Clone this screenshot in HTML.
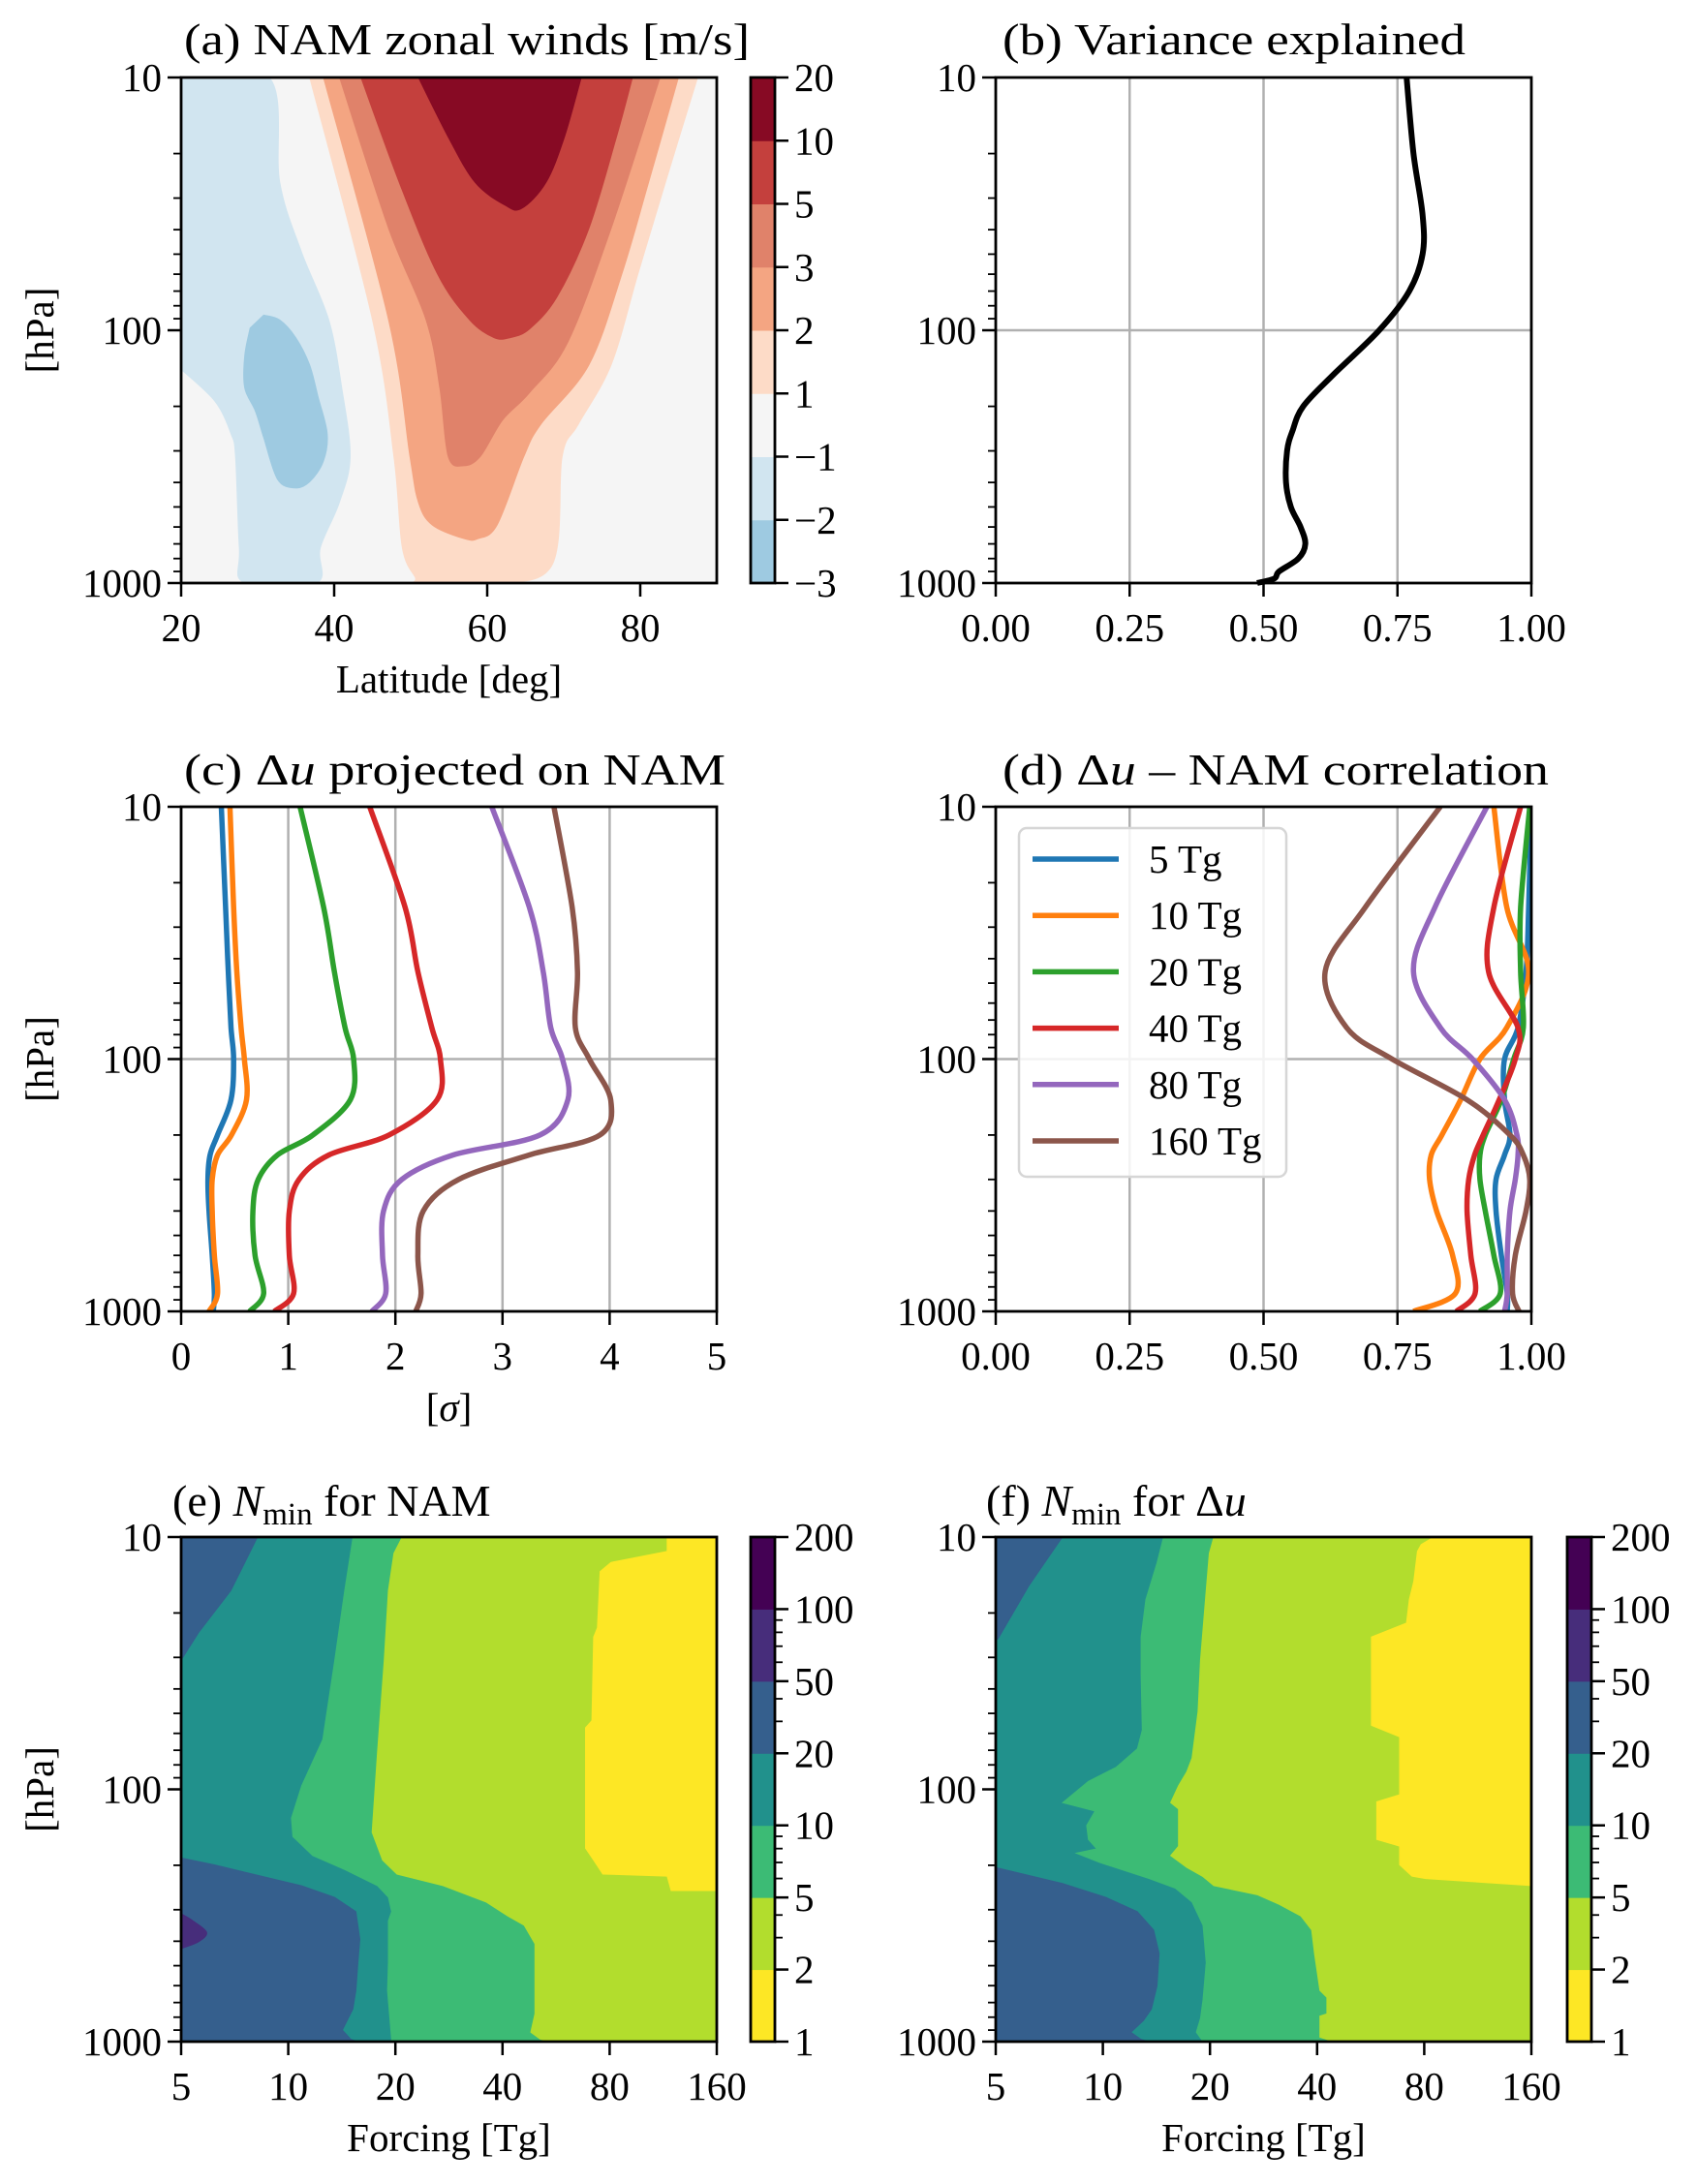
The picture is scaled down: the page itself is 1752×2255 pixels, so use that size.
<!DOCTYPE html>
<html><head><meta charset="utf-8"><style>
html,body{margin:0;padding:0;background:#fff}
svg{display:block}
text{font-family:"Liberation Serif","DejaVu Serif",serif;fill:#000}
</style></head><body>
<svg id="fig" xmlns="http://www.w3.org/2000/svg" width="1752" height="2255" viewBox="0 0 1752 2255"></svg>
<script>
// ---------- data ----------
const aLevels = ["\u22123","\u22122","\u22121","1","2","3","5","10","20"];
const aColors = ["#9ecae1","#d1e5f0","#f5f5f5","#fddbc7","#f4a582","#e0826a","#c4403d","#870a24"];
const aNeg1 = [[20,10],[31.5,10],[32.9,26],[35.7,48.6],[39.3,91],[41,169],[42.1,316],[40.7,479],[38.2,725],[37.7,1000],[28.3,1000],[27.6,725],[27.1,316],[26.5,256],[24.4,191],[20,143]];
const aNeg2 = [[30.8,87],[32.9,91],[35,107],[36.8,137],[37.9,183],[39.1,256],[38.6,330],[36.8,398],[34.9,421],[32.6,389],[30.8,267],[29.7,209],[28.3,169],[28.3,126],[29,98]];
const aPos1 = [[36.8,10],[45,91],[47.8,316],[48.9,725],[50.6,950],[51,1000],[59.9,1000],[68.4,857],[69.8,316],[71.9,236],[76.2,137],[79.7,60],[83.3,26],[87.5,10]];
const aPos2 = [[38.6,10],[47.1,91],[49.9,316],[51,479],[52.8,589],[57,668],[58.8,668],[61.3,589],[64.8,316],[67,236],[73.3,137],[77.6,60],[81.1,26],[85,10]];
const aPos3 = [[40.7,10],[47.1,39.5],[52,91],[53.8,169],[54.9,316],[56.9,344],[59.1,316],[62,227],[65.5,177],[70.5,112],[76.2,39.5],[82.6,10]];
const aPos5 = [[43.5,10],[48.5,26],[53.5,60],[57.7,91],[60.9,107],[63,107],[65.5,99],[69.1,74],[73.3,39.5],[76.9,17.2],[79,10]];
const aPos10 = [[51,10],[54.9,17.2],[58.4,26],[62.3,32],[64.5,33],[67.7,26],[70.1,17.2],[72.3,10]];

const bP = [10,20,35,50,70,100,150,200,250,300,400,500,600,700,800,900,960,1000];
const bV = [0.767,0.78,0.797,0.797,0.772,0.716,0.63,0.574,0.554,0.544,0.542,0.551,0.569,0.578,0.565,0.529,0.52,0.488];

const seriesNames = ["5 Tg","10 Tg","20 Tg","40 Tg","80 Tg","160 Tg"];
const seriesColors = ["#1f77b4","#ff7f0e","#2ca02c","#d62728","#9467bd","#8c564b"];
const profP = [10,25,45,75,100,145,200,240,300,400,600,850,1000];
const c5 = [0.375,0.415,0.44,0.466,0.49,0.466,0.34,0.27,0.25,0.26,0.29,0.31,0.30];
const c10 = [0.456,0.49,0.52,0.56,0.59,0.61,0.47,0.34,0.29,0.29,0.31,0.34,0.26];
const c20 = [1.11,1.33,1.43,1.53,1.61,1.58,1.23,0.9,0.72,0.67,0.69,0.77,0.64];
const c40 = [1.76,2.09,2.21,2.34,2.42,2.39,1.94,1.38,1.1,1.01,1.01,1.05,0.87];
const c80 = [2.9,3.25,3.38,3.45,3.56,3.61,3.35,2.54,2.06,1.89,1.88,1.91,1.78];
const c160 = [3.48,3.65,3.70,3.68,3.81,4.01,3.91,3.25,2.59,2.26,2.21,2.24,2.19];
const d5 = [1.0,0.995,0.99,0.975,0.95,0.95,0.96,0.95,0.934,0.934,0.944,0.955,0.955];
const d10 = [0.93,0.954,0.995,0.954,0.904,0.868,0.833,0.813,0.81,0.823,0.853,0.858,0.78];
const d20 = [0.997,0.98,0.98,0.985,0.967,0.944,0.914,0.904,0.904,0.914,0.93,0.942,0.904];
const d40 = [0.98,0.93,0.92,0.975,0.97,0.94,0.91,0.894,0.883,0.88,0.887,0.895,0.86];
const d80 = [0.917,0.82,0.78,0.83,0.89,0.95,0.973,0.975,0.97,0.96,0.955,0.955,0.95];
const d160 = [0.83,0.69,0.615,0.655,0.74,0.88,0.96,0.985,0.997,0.99,0.97,0.965,0.977];

const nLevels = [1,2,5,10,20,50,100,200];
const nColors = ["#fde725","#b2dd2d","#3cbb75","#21918c","#355f8d","#472d7b","#440154"];
const eTopBlue = [[5,10],[8.2,10],[6.9,16.3],[5.6,23.9],[5,30.8]];
const eGreen = [[15.2,10],[14.4,16.3],[13.5,30.8],[12.5,63.4],[10.9,96.8],[10.2,130],[10.3,154],[11.7,183],[14.4,208],[17.8,241],[19.1,268],[19.5,305],[19.1,332],[19.1,486],[19,627],[19.5,979],[19.5,1000],[160,1000],[160,10]];
const eLight = [[20.9,10],[19.8,11.6],[19.1,16.3],[18.6,30.8],[17.8,71.9],[17.2,148],[18.4,191],[20.2,217],[27.2,241],[36,280],[41.4,318],[46,346],[49.3,410],[49.3,775],[48,918],[51.1,979],[54.8,1000],[160,1000],[160,10]];
const eYellow = [[116,10],[116,11.4],[80.7,12.6],[75.2,13.7],[73.9,22.9],[72.1,24.9],[71.3,53.4],[68.4,57],[68.4,171],[72.1,191],[76.5,217],[116,221],[119,252],[160,252],[160,10]];
const eBotBlue = [[5,187],[6.2,199],[8.2,219],[10.9,241],[13.5,268],[15.5,305],[15.9,393],[15.7,486],[15.5,627],[15.2,743],[14.2,899],[15,979],[15.7,1000],[5,1000]];
const ePurple = [[5,311],[5.4,332],[5.9,369],[5.6,402],[5,428]];
const fTopBlue = [[5,10],[7.7,10],[6.2,15.6],[5.07,25.4],[5,25.4]];
const fGreen = [[14.8,10],[14.2,12.6],[13.2,17.7],[12.8,24.9],[12.8,35],[12.9,58.2],[12.5,69],[10.9,81.7],[9.1,92.9],[7.7,113],[9.5,122],[9.0,139],[9.1,158],[9.6,172],[8.4,179],[9.8,195],[13.5,226],[16,247],[17.8,280],[19.1,346],[19.5,486],[19.1,682],[18.8,809],[18.3,918],[19.1,1000],[160,1000],[160,10]];
const fLight = [[20.5,10],[19.9,11.6],[19.5,16.3],[18.8,30.8],[18.5,49.1],[17.8,75.1],[17.2,85.3],[16.3,96.8],[15.5,113],[16.3,119.7],[16.3,168],[15.5,183],[17.2,204],[19.1,222],[20.5,241],[27.2,262],[31.3,286],[36,318],[38.6,361],[39.3,447],[40.7,627],[42.6,668],[42.6,775],[40.7,792],[40.7,960],[44.4,1000],[160,1000],[160,10]];
const fYellow = [[160,10],[85,10],[78.4,10.7],[76.5,11.4],[74.7,15],[72.6,17.7],[71.3,21.9],[56.8,24.9],[56.8,55.8],[68.2,62],[68.2,105],[58.8,112],[58.8,158],[68.2,168],[68.2,199],[73.9,221],[80.7,226],[160,241]];
const fBotBlue = [[5,204],[7.7,236],[10.2,268],[12.5,305],[13.9,361],[14.4,447],[14.2,601],[13.7,743],[13,826],[12,918],[12.8,979],[13.5,1000],[5,1000]];

const latTicks = [20,40,60,80];
const fracTicks = [0,0.25,0.5,0.75,1];
const fracLabels = ["0.00","0.25","0.50","0.75","1.00"];
const sigTicks = [0,1,2,3,4,5];
const forceTicks = [5,10,20,40,80,160];
const presTicks = [10,100,1000];

// ---------- helpers ----------
const NS = "http://www.w3.org/2000/svg";
const fig = document.getElementById("fig");
function mk(tag, attrs, parent){const e=document.createElementNS(NS,tag);for(const k in attrs)e.setAttribute(k,attrs[k]);(parent||fig).appendChild(e);return e;}
function yP(ax,p){return ax.y0+(Math.log10(p)-1)/2*(ax.y1-ax.y0);}
function xLin(ax,v,lo,hi){return ax.x0+(v-lo)/(hi-lo)*(ax.x1-ax.x0);}
function xLog2(ax,f){return ax.x0+Math.log2(f/5)/5*(ax.x1-ax.x0);}
function smooth(pts){let d="M"+pts[0][0].toFixed(1)+","+pts[0][1].toFixed(1);for(let i=0;i<pts.length-1;i++){const p0=pts[i-1]||pts[i],p1=pts[i],p2=pts[i+1],p3=pts[i+2]||p2;const c1=[p1[0]+(p2[0]-p0[0])/6,p1[1]+(p2[1]-p0[1])/6],c2=[p2[0]-(p3[0]-p1[0])/6,p2[1]-(p3[1]-p1[1])/6];d+="C"+c1[0].toFixed(1)+","+c1[1].toFixed(1)+" "+c2[0].toFixed(1)+","+c2[1].toFixed(1)+" "+p2[0].toFixed(1)+","+p2[1].toFixed(1);}return d;}
let clipId=0;
function clip(ax){const id="c"+(clipId++);const cp=mk("clipPath",{id:id});mk("rect",{x:ax.x0,y:ax.y0,width:ax.x1-ax.x0,height:ax.y1-ax.y0},cp);return "url(#"+id+")";}

const A={x0:187,x1:740,y0:80,y1:602}, B={x0:1028,x1:1581,y0:80,y1:602};
const C={x0:187,x1:740,y0:833,y1:1354}, D={x0:1028,x1:1581,y0:833,y1:1354};
const E={x0:187,x1:740,y0:1587,y1:2108}, F={x0:1028,x1:1581,y0:1587,y1:2108};

function title(ax,str,y,len,name){const t=mk("text",{x:ax.tx,y:y,"font-size":46,textLength:len,lengthAdjust:"spacingAndGlyphs"});t.innerHTML=str;

}

function yAxis(ax,label,name){
  const g=mk("g",{});
  
  
  presTicks.forEach(p=>{const y=yP(ax,p);mk("line",{x1:ax.x0-14,x2:ax.x0,y1:y,y2:y,stroke:"#000","stroke-width":2.5},g);
    const t=mk("text",{x:ax.x0-20,y:y+14,"font-size":41,"text-anchor":"end"},g);t.textContent=String(p);});
  [10,100].forEach(b=>{for(let k=2;k<10;k++){const y=yP(ax,b*k);mk("line",{x1:ax.x0-8,x2:ax.x0,y1:y,y2:y,stroke:"#000","stroke-width":1.8},g);}});
  if(label){const cy=(ax.y0+ax.y1)/2;const t=mk("text",{x:0,y:0,"font-size":41,"text-anchor":"middle",transform:"translate(55,"+cy+") rotate(-90)"},g);t.textContent=label;
    
    }
}
function xAxis(ax,vals,labels,fx,label,name){
  const g=mk("g",{});
  
  
  vals.forEach((v,i)=>{const x=fx(v);mk("line",{x1:x,x2:x,y1:ax.y1,y2:ax.y1+14,stroke:"#000","stroke-width":2.5},g);
    const t=mk("text",{x:x,y:ax.y1+60,"font-size":41,"text-anchor":"middle"},g);t.textContent=labels[i];});
  if(label){const t=mk("text",{x:(ax.x0+ax.x1)/2,y:ax.y1+113,"font-size":41,"text-anchor":"middle"},g);t.innerHTML=label;
    
    }
}
function frame(ax,name){const r=mk("rect",{x:ax.x0,y:ax.y0,width:ax.x1-ax.x0,height:ax.y1-ax.y0,fill:"none",stroke:"#000","stroke-width":2.8});

}
function grid(ax,xs,fx){xs.forEach(v=>{const x=fx(v);const l=mk("line",{x1:x,x2:x,y1:ax.y0,y2:ax.y1,stroke:"#b0b0b0","stroke-width":2.5});

});
const y=yP(ax,100);const l=mk("line",{x1:ax.x0,x2:ax.x1,y1:y,y2:y,stroke:"#b0b0b0","stroke-width":2.5});

}
function poly(ax,pts,fx,color,name,cp,sm){
let d;
if(sm){d=smooth(pts.map(q=>[fx(q[0]),yP(ax,q[1])]))+"Z";}
else{d=pts.map((q,i)=>(i?"L":"M")+fx(q[0]).toFixed(1)+","+yP(ax,q[1]).toFixed(1)).join("")+"Z";}
const p=mk("path",{d:d,fill:color,stroke:color,"stroke-width":0.8,"clip-path":cp});

}
function colorbar(x0,x1,ax,colors,labels,name,minor){
  const g=mk("g",{});
  
  
  const n=colors.length,h=(ax.y1-ax.y0)/n;
  colors.forEach((c,i)=>{mk("rect",{x:x0,y:ax.y1-(i+1)*h,width:x1-x0,height:h+0.5,fill:c},g);});
  mk("rect",{x:x0,y:ax.y0,width:x1-x0,height:ax.y1-ax.y0,fill:"none",stroke:"#000","stroke-width":2.8},g);
  labels.forEach((l,i)=>{const y=ax.y1-i*h;mk("line",{x1:x1,x2:x1+14,y1:y,y2:y,stroke:"#000","stroke-width":2.5},g);
    const t=mk("text",{x:x1+20,y:y+14,"font-size":41},g);t.textContent=l;});
  if(minor){for(let i=0;i<n;i++){const lo=nLevels[i],hi=nLevels[i+1];const dec=Math.pow(10,Math.floor(Math.log10(lo)+1e-9));
    for(let v=lo+dec;v<hi-1e-9;v+=dec){const y=ax.y1-(i+Math.log(v/lo)/Math.log(hi/lo))*h;mk("line",{x1:x1,x2:x1+8,y1:y,y2:y,stroke:"#000","stroke-width":1.8},g);}}}
}

// ---------- panel (a) ----------
(function(){
  const fx=v=>xLin(A,v,20,90);const cp=clip(A);
  const bg=mk("rect",{x:A.x0,y:A.y0,width:A.x1-A.x0,height:A.y1-A.y0,fill:aColors[2]});
  
  
  poly(A,aNeg1,fx,aColors[1],"contour-neg1",cp,true);
  poly(A,aNeg2,fx,aColors[0],"contour-neg2",cp,true);
  poly(A,aPos1,fx,aColors[3],"contour-pos1",cp,true);
  poly(A,aPos2,fx,aColors[4],"contour-pos2",cp,true);
  poly(A,aPos3,fx,aColors[5],"contour-pos3",cp,true);
  poly(A,aPos5,fx,aColors[6],"contour-pos5",cp,true);
  poly(A,aPos10,fx,aColors[7],"contour-pos10",cp,true);
  frame(A,"panel-a");yAxis(A,"[hPa]","panel-a");
  xAxis(A,latTicks,latTicks.map(String),fx,"Latitude [deg]","panel-a");
  colorbar(775,800,A,aColors,aLevels,"panel-a-colorbar",false);
  A.tx=190;title(A,"(a) NAM zonal winds [m/s]",56,584,"panel-a-title");
})();
// ---------- panel (b) ----------
(function(){
  const fx=v=>xLin(B,v,0,1);
  grid(B,[0.25,0.5,0.75],fx);
  const pts=bP.map((p,i)=>[fx(bV[i]),yP(B,p)]);
  const l=mk("path",{d:smooth(pts),fill:"none",stroke:"#000","stroke-width":6,"stroke-linejoin":"round"});
  
  
  frame(B,"panel-b");yAxis(B,null,"panel-b");
  xAxis(B,fracTicks,fracLabels,fx,null,"panel-b");
  B.tx=1035;title(B,"(b) Variance explained",56,478,"panel-b-title");
})();
// ---------- panel (c) ----------
(function(){
  const fx=v=>xLin(C,v,0,5);const cp=clip(C);
  grid(C,[1,2,3,4],fx);
  [c5,c10,c20,c40,c80,c160].forEach((s,k)=>{const pts=profP.map((p,i)=>[fx(s[i]),yP(C,p)]);
    const l=mk("path",{d:smooth(pts),fill:"none",stroke:seriesColors[k],"stroke-width":5.5,"clip-path":cp});
    
    });
  frame(C,"panel-c");yAxis(C,"[hPa]","panel-c");
  xAxis(C,sigTicks,sigTicks.map(String),fx,'[<tspan font-style="italic">σ</tspan>]',"panel-c");
  C.tx=190;title(C,'(c) Δ<tspan font-style="italic">u</tspan> projected on NAM',810,559,"panel-c-title");
})();
// ---------- panel (d) ----------
(function(){
  const fx=v=>xLin(D,v,0,1);const cp=clip(D);
  grid(D,[0.25,0.5,0.75],fx);
  [d5,d10,d20,d40,d80,d160].forEach((s,k)=>{const pts=profP.map((p,i)=>[fx(s[i]),yP(D,p)]);
    const l=mk("path",{d:smooth(pts),fill:"none",stroke:seriesColors[k],"stroke-width":5.5,"clip-path":cp});
    
    });
  frame(D,"panel-d");yAxis(D,null,"panel-d");
  xAxis(D,fracTicks,fracLabels,fx,null,"panel-d");
  D.tx=1035;title(D,'(d) Δ<tspan font-style="italic">u</tspan> – NAM correlation',810,564,"panel-d-title");
  const lg=mk("g",{});
  
  
  mk("rect",{x:1052,y:855,width:276,height:360,rx:8,fill:"#fff","fill-opacity":0.85,stroke:"#d6d6d6","stroke-width":2.5},lg);
  seriesNames.forEach((n,k)=>{const y=887+k*58.2;
    const e=mk("g",{},lg);
    
    
    mk("line",{x1:1066,x2:1155,y1:y,y2:y,stroke:seriesColors[k],"stroke-width":5.5},e);
    const t=mk("text",{x:1186,y:y+14,"font-size":41},e);t.textContent=n;});
})();
// ---------- panels (e),(f) ----------
function nPanel(ax,parts,tx,ttl,name,cbx){
  const fx=v=>xLog2(ax,v);const cp=clip(ax);
  const bg=mk("rect",{x:ax.x0,y:ax.y0,width:ax.x1-ax.x0,height:ax.y1-ax.y0,fill:nColors[3]});
  
  
  poly(ax,parts[0],fx,nColors[2],name+"-region-5-10",cp);
  poly(ax,parts[1],fx,nColors[1],name+"-region-2-5",cp);
  poly(ax,parts[2],fx,nColors[0],name+"-region-1-2",cp);
  poly(ax,parts[3],fx,nColors[4],name+"-region-top-20-50",cp);
  poly(ax,parts[4],fx,nColors[4],name+"-region-bottom-20-50",cp);
  if(parts[5])poly(ax,parts[5],fx,nColors[5],name+"-region-50-100",cp,true);
  frame(ax,name);yAxis(ax,tx<500?"[hPa]":null,name);
  xAxis(ax,forceTicks,forceTicks.map(String),fx,"Forcing [Tg]",name);
  colorbar(cbx,cbx+25,ax,nColors,nLevels.map(String),name+"-colorbar",true);
  const t=mk("text",{x:tx,y:1565,"font-size":46});t.innerHTML=ttl;
  
  
}
nPanel(E,[eGreen,eLight,eYellow,eTopBlue,eBotBlue,ePurple],178,'(e) <tspan font-style="italic">N</tspan><tspan font-size="33" dy="9">min</tspan><tspan dy="-9"> for NAM</tspan>',"panel-e",775);
nPanel(F,[fGreen,fLight,fYellow,fTopBlue,fBotBlue,null],1018,'(f) <tspan font-style="italic">N</tspan><tspan font-size="33" dy="9">min</tspan><tspan dy="-9"> for Δ</tspan><tspan font-style="italic">u</tspan>',"panel-f",1618);
</script>
</body></html>
